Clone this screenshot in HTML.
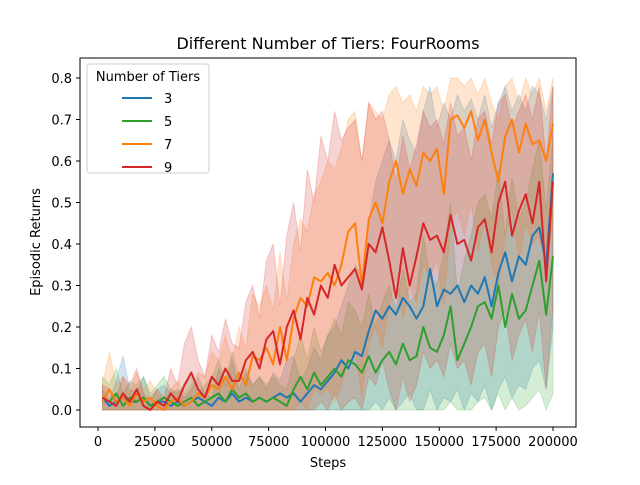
<!DOCTYPE html>
<html><head><meta charset="utf-8"><style>
body{margin:0;background:#fff;font-family:"Liberation Sans","DejaVu Sans",sans-serif}
svg text{font-family:"DejaVu Sans","Liberation Sans",sans-serif}
</style></head><body>
<svg id="chart" width="640" height="480" xmlns="http://www.w3.org/2000/svg">
<rect width="640" height="480" fill="#fff"/>
<text x="328" y="49" text-anchor="middle" font-size="16">Different Number of Tiers: FourRooms</text>
<g id="bands"></g><g id="lines"></g>
<rect x="80" y="58" width="496" height="369" fill="none" stroke="#000" stroke-width="1"/>
<g id="axes"></g>
<text x="328" y="467" text-anchor="middle" font-size="13">Steps</text>
<text transform="translate(40,242) rotate(-90)" text-anchor="middle" font-size="13">Episodic Returns</text>
<g>
<rect x="87" y="64" width="122" height="109" rx="3" fill="#fff" fill-opacity="0.8" stroke="#ccc"/>
<text x="148" y="81" text-anchor="middle" font-size="13">Number of Tiers</text>
<g id="legend-items"></g>
</g>
</svg>
<script>
const xSteps=[];for(let i=0;i<67;i++)xSteps.push(2000+i*3000);
const names=["3","5","7","9"];
const colors=["#1f77b4","#2ca02c","#ff7f0e","#d62728"];
const blueMean=[0.03,0.01,0.02,0.03,0.02,0.02,0.03,0.01,0.02,0.02,0.01,0.02,0.01,0.02,0.03,0.02,0.01,0.03,0.02,0.04,0.02,0.03,0.02,0.03,0.02,0.03,0.04,0.03,0.04,0.02,0.04,0.06,0.05,0.07,0.09,0.12,0.1,0.14,0.13,0.19,0.24,0.22,0.25,0.23,0.27,0.25,0.22,0.25,0.34,0.25,0.29,0.28,0.3,0.26,0.3,0.28,0.32,0.25,0.33,0.38,0.31,0.37,0.35,0.42,0.44,0.35,0.57];
const greenMean=[0.03,0.02,0.04,0.01,0.03,0.02,0.03,0.01,0.02,0.03,0.02,0.01,0.02,0.03,0.01,0.02,0.03,0.04,0.02,0.05,0.03,0.04,0.02,0.03,0.02,0.03,0.02,0.01,0.05,0.08,0.05,0.09,0.06,0.08,0.1,0.08,0.12,0.11,0.09,0.13,0.09,0.12,0.14,0.11,0.16,0.12,0.13,0.2,0.15,0.14,0.18,0.25,0.12,0.16,0.2,0.25,0.26,0.22,0.3,0.2,0.28,0.22,0.24,0.3,0.36,0.23,0.37];
const orangeMean=[0.02,0.05,0.02,0.03,0.01,0.04,0.02,0.03,0.01,0.0,0.02,0.03,0.01,0.02,0.04,0.03,0.06,0.05,0.08,0.05,0.09,0.06,0.13,0.12,0.15,0.11,0.2,0.12,0.22,0.27,0.25,0.32,0.31,0.33,0.3,0.35,0.43,0.45,0.3,0.46,0.5,0.45,0.55,0.6,0.52,0.58,0.54,0.62,0.6,0.63,0.52,0.7,0.71,0.68,0.72,0.65,0.7,0.62,0.55,0.66,0.7,0.62,0.69,0.64,0.65,0.6,0.69];
const redMean=[0.03,0.02,0.01,0.04,0.02,0.05,0.01,0.0,0.02,0.01,0.04,0.02,0.06,0.09,0.05,0.03,0.08,0.06,0.1,0.07,0.07,0.12,0.14,0.1,0.17,0.19,0.11,0.2,0.24,0.17,0.27,0.23,0.3,0.27,0.35,0.3,0.32,0.34,0.29,0.4,0.38,0.44,0.36,0.27,0.39,0.3,0.37,0.45,0.41,0.42,0.38,0.47,0.4,0.41,0.36,0.44,0.46,0.38,0.5,0.55,0.42,0.48,0.52,0.45,0.55,0.31,0.55];
const blueHi=[0.05,0.02,0.07,0.13,0.05,0.04,0.08,0.03,0.05,0.06,0.04,0.05,0.03,0.05,0.08,0.04,0.03,0.1,0.06,0.12,0.05,0.09,0.06,0.08,0.05,0.09,0.07,0.12,0.13,0.07,0.1,0.15,0.12,0.18,0.2,0.25,0.3,0.35,0.32,0.45,0.55,0.6,0.65,0.6,0.7,0.65,0.62,0.72,0.78,0.68,0.74,0.7,0.76,0.72,0.75,0.7,0.76,0.68,0.74,0.78,0.72,0.76,0.72,0.78,0.76,0.7,0.78];
const blueLo=[0,0,0,0,0,0,0,0,0,0,0,0,0,0,0,0,0,0,0,0,0,0,0,0,0,0,0,0,0,0,0,0,0,0,0,0,0,0,0,0,0.02,0,0.03,0,0.02,0.04,0,0,0.05,0,0.03,0.02,0.05,0,0.04,0.02,0.06,0,0.05,0.08,0.03,0.06,0.05,0.1,0.12,0.05,0.2];
const greenHi=[0.08,0.06,0.1,0.04,0.07,0.06,0.08,0.04,0.06,0.08,0.05,0.04,0.06,0.08,0.04,0.06,0.08,0.12,0.07,0.14,0.08,0.1,0.06,0.08,0.06,0.08,0.06,0.05,0.12,0.18,0.12,0.2,0.14,0.18,0.22,0.18,0.26,0.24,0.2,0.28,0.2,0.26,0.3,0.24,0.34,0.26,0.28,0.42,0.32,0.3,0.38,0.5,0.28,0.36,0.42,0.5,0.52,0.46,0.58,0.42,0.56,0.46,0.5,0.58,0.65,0.48,0.66];
const greenLo=[0,0,0,0,0,0,0,0,0,0,0,0,0,0,0,0,0,0,0,0,0,0,0,0,0,0,0,0,0,0,0,0,0,0,0,0,0,0,0,0,0,0,0,0,0,0,0,0,0,0,0,0.02,0,0,0,0.02,0.03,0,0.04,0,0.03,0,0.01,0.03,0.05,0,0.04];
const orangeHi=[0.06,0.14,0.06,0.08,0.04,0.09,0.05,0.07,0.04,0.02,0.05,0.07,0.04,0.06,0.09,0.08,0.14,0.12,0.18,0.12,0.2,0.15,0.28,0.25,0.3,0.24,0.38,0.26,0.4,0.46,0.43,0.52,0.55,0.6,0.58,0.63,0.7,0.72,0.6,0.74,0.72,0.7,0.76,0.78,0.74,0.76,0.72,0.78,0.76,0.78,0.72,0.8,0.8,0.78,0.8,0.76,0.8,0.74,0.7,0.78,0.8,0.74,0.8,0.76,0.8,0.72,0.8];
const orangeLo=[0,0,0,0,0,0,0,0,0,0,0,0,0,0,0,0,0,0,0,0,0,0,0,0,0,0,0,0,0,0.02,0,0.05,0.04,0.05,0.02,0.06,0.12,0.15,0.03,0.16,0.2,0.15,0.25,0.32,0.22,0.3,0.26,0.35,0.32,0.36,0.25,0.45,0.48,0.42,0.5,0.38,0.46,0.35,0.3,0.42,0.48,0.36,0.45,0.4,0.42,0.35,0.45];
const redHi=[0.06,0.05,0.03,0.08,0.06,0.1,0.04,0.02,0.05,0.03,0.1,0.06,0.16,0.2,0.12,0.08,0.18,0.14,0.22,0.16,0.15,0.26,0.3,0.22,0.36,0.4,0.25,0.42,0.5,0.38,0.58,0.5,0.66,0.6,0.72,0.65,0.68,0.7,0.6,0.74,0.7,0.72,0.65,0.55,0.66,0.58,0.64,0.72,0.68,0.7,0.64,0.74,0.66,0.68,0.6,0.7,0.72,0.64,0.74,0.76,0.68,0.72,0.76,0.7,0.78,0.6,0.78];
const redLo=[0,0,0,0,0,0,0,0,0,0,0,0,0,0,0,0,0,0,0,0,0,0,0,0,0,0,0,0,0,0,0,0,0.02,0,0.04,0,0.02,0.03,0,0.08,0.06,0.12,0.05,0,0.08,0.02,0.06,0.14,0.1,0.12,0.08,0.16,0.1,0.12,0.06,0.14,0.16,0.08,0.2,0.24,0.12,0.18,0.22,0.14,0.24,0.05,0.25];
const means=[blueMean,greenMean,orangeMean,redMean];
const his=[blueHi,greenHi,orangeHi,redHi];
const los=[blueLo,greenLo,orangeLo,redLo];
const xTicks=[0,25000,50000,75000,100000,125000,150000,175000,200000];
const yTicks=[0,0.1,0.2,0.3,0.4,0.5,0.6,0.7,0.8];
const NS="http://www.w3.org/2000/svg";
function px(x){return 98+x/200000*455;}
function py(v){return 410-v*415;}
function mk(t,a,p){const e=document.createElementNS(NS,t);for(const k in a)e.setAttribute(k,a[k]);p.appendChild(e);return e;}
const bands=document.getElementById('bands'),lines=document.getElementById('lines'),axes=document.getElementById('axes'),leg=document.getElementById('legend-items');
for(let s=0;s<4;s++){
  let d='';xSteps.forEach((x,i)=>{d+=(i?'L':'M')+px(x).toFixed(1)+','+py(his[s][i]).toFixed(1);});
  for(let i=xSteps.length-1;i>=0;i--)d+='L'+px(xSteps[i]).toFixed(1)+','+py(los[s][i]).toFixed(1);
  const b=mk('path',{d:d+'Z',fill:colors[s],'fill-opacity':0.2,stroke:colors[s],'stroke-opacity':0.2},bands);
  
  
}
for(let s=0;s<4;s++){
  const pts=xSteps.map((x,i)=>px(x).toFixed(1)+','+py(means[s][i]).toFixed(1)).join(' ');
  const l=mk('polyline',{points:pts,fill:'none',stroke:colors[s],'stroke-width':2,'stroke-linejoin':'round'},lines);
  
  
  const g=mk('g',{},leg);
  
  
  const y=98+s*23;
  mk('line',{x1:122,x2:152,y1:y,y2:y,stroke:colors[s],'stroke-width':2},g);
  const t=mk('text',{x:164,y:y+5,'font-size':13},g);t.textContent=names[s];
}
xTicks.forEach(v=>{const x=px(v);
  const t=mk('line',{x1:x,x2:x,y1:427,y2:431,stroke:'#000'},axes);
  
  
  const l=mk('text',{x:x,y:446,'text-anchor':'middle','font-size':13},axes);l.textContent=String(v);
  
  
});
yTicks.forEach(v=>{const y=py(v);
  const t=mk('line',{x1:76,x2:80,y1:y,y2:y,stroke:'#000'},axes);
  
  
  const l=mk('text',{x:72,y:y+5,'text-anchor':'end','font-size':13},axes);l.textContent=v.toFixed(1);
  
  
});
</script>
</body></html>
